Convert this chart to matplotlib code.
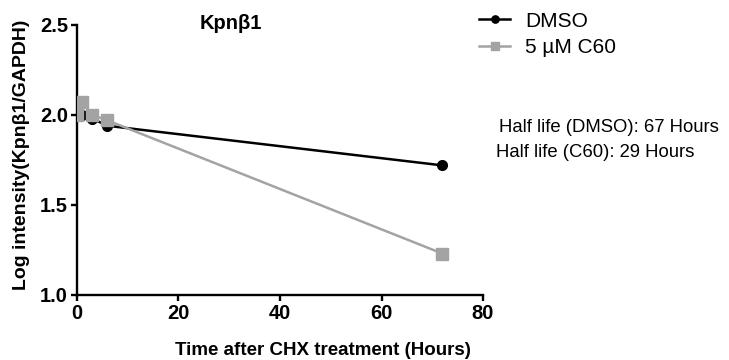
import matplotlib
matplotlib.use("Agg")
import matplotlib.pyplot as plt

plt.rcParams['font.family'] = ['Liberation Sans', 'DejaVu Sans']

# CHX chase time points (hours) and log intensity of Kpnb1/GAPDH
hours = [0, 1, 3, 6, 72]
dmso = [2.00, 2.00, 1.98, 1.94, 1.72]
c60 = [2.00, 2.07, 2.00, 1.97, 1.23]

series_labels = ["DMSO", "5 \u00b5M C60"]
half_life_lines = ["Half life (DMSO): 67 Hours", "Half life (C60): 29 Hours"]

x_ticks = [0, 20, 40, 60, 80]
y_ticks = [1.0, 1.5, 2.0, 2.5]

fig = plt.figure(figsize=(7.29, 3.60), dpi=100)
ax = fig.add_axes([0.1056, 0.1806, 0.557, 0.75])

ax.plot(hours, dmso, color="black", marker="o", markersize=7, linewidth=1.8,
        label=series_labels[0], zorder=3)
ax.plot(hours, c60, color="#a3a3a3", marker="s", markersize=8.5, linewidth=1.8,
        label=series_labels[1], zorder=4)

ax.set_xlim(0, 80)
ax.set_ylim(1.0, 2.5)
ax.set_xticks(x_ticks)
ax.set_yticks(y_ticks)
ax.set_xticklabels([str(t) for t in x_ticks], fontweight="bold", fontsize=14.5)
ax.set_yticklabels([f"{t:.1f}" for t in y_ticks], fontweight="bold", fontsize=14.5)

for side in ("top", "right"):
    ax.spines[side].set_visible(False)
for side in ("left", "bottom"):
    ax.spines[side].set_linewidth(1.7)
ax.tick_params(direction="out", length=4, width=1.7, pad=2.5)

ax.set_xlabel("Time after CHX treatment (Hours)", fontweight="bold", fontsize=13.5, labelpad=14)
ax.xaxis.label.set_x(0.606)
ax.set_ylabel("Log intensity(Kpn\u03b21/GAPDH)", fontweight="bold", fontsize=14, labelpad=7)
ax.yaxis.label.set_y(0.52)
fig.text(0.317, 0.935, "Kpn\u03b21", fontweight="bold", fontsize=14.5, ha="center", va="center")

fig.legend(loc="upper left", bbox_to_anchor=(479 / 729, 0.968), frameon=False,
           fontsize=15, handlelength=1.5, handletextpad=0.7, labelspacing=0.35,
           borderpad=0, borderaxespad=0, markerscale=0.75)

fig.text(499 / 729, 1 - 127 / 360, half_life_lines[0], fontsize=13.3, va="center")
fig.text(496 / 729, 1 - 152 / 360, half_life_lines[1], fontsize=13.3, va="center")

fig.savefig("out.png", dpi=100)
